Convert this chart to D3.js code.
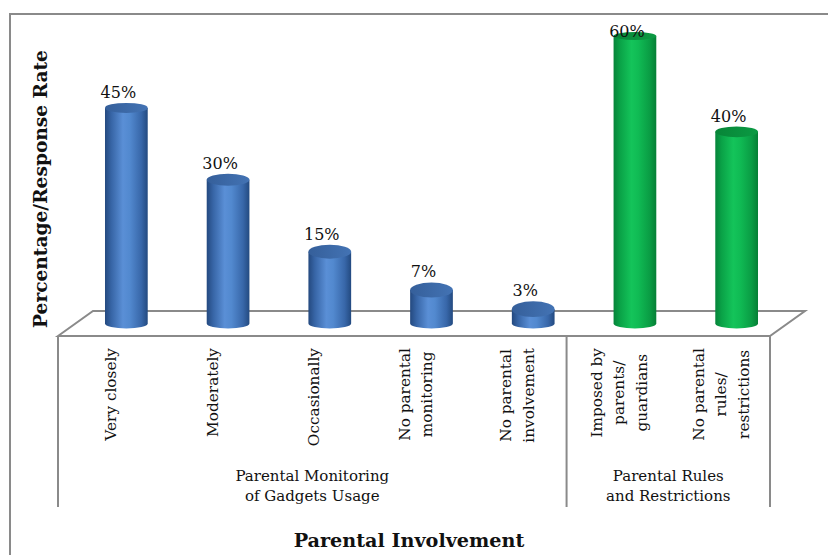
<!DOCTYPE html>
<html>
<head>
<meta charset="utf-8">
<script src="https://cdn.jsdelivr.net/npm/d3@7"></script>
<style>
  html, body { margin: 0; padding: 0; background: #fff; }
  svg { display: block; }
  text { font-family: "DejaVu Serif", "Liberation Serif", serif; fill: #111; }
</style>
</head>
<body>
<svg id="chart" width="828" height="555"></svg>
<script>
// Response rates (%) per category
const categoryLines = [
  ["Very closely"],
  ["Moderately"],
  ["Occasionally"],
  ["No parental", "monitoring"],
  ["No parental", "involvement"],
  ["Imposed by", "parents/", "guardians"],
  ["No parental", "rules/", "restrictions"]
];
const categories = categoryLines.map(l => l.join(" "));
const values = [45, 30, 15, 7, 3, 60, 40];
const valueLabels = ["45%", "30%", "15%", "7%", "3%", "60%", "40%"];

// Category groups along the axis
const groupNames = [["Parental Monitoring", "of Gadgets Usage"], ["Parental Rules", "and Restrictions"]];
const groupSizes = [5, 2];
const groupOf = [0, 0, 0, 0, 0, 1, 1];

const yTitle = "Percentage/Response Rate";
const xTitle = "Parental Involvement";

// Geometry
const svg = d3.select("#chart");
const frontLeft = 58, frontRight = 770, floorFront = 336;
const depthX = 35, depthY = 25;
const floorMid = floorFront - depthY / 2;
const lineColor = "#8a8a8a";

const x = d3.scaleBand().domain(categories).range([frontLeft, frontRight]).paddingInner(0).paddingOuter(0);
const y = d3.scaleLinear().domain([0, 60]).range([floorMid, 36]);

// Cylinder palettes per group
const palettes = [
  { stops: ["#24497f", "#3765a6", "#5a8fd6", "#5289cf", "#3867a9", "#234a80"], top: ["#355f9a", "#4373b4"] },
  { stops: ["#06843a", "#0aa247", "#14c45a", "#10bb54", "#0a9c44", "#067f36"], top: ["#078537", "#0b9a43"] }
];

const defs = svg.append("defs");
palettes.forEach((p, i) => {
  const g = defs.append("linearGradient").attr("id", "body" + i).attr("x1", 0).attr("x2", 1).attr("y1", 0).attr("y2", 0);
  [0, 0.15, 0.42, 0.58, 0.85, 1].forEach((o, k) => g.append("stop").attr("offset", o).attr("stop-color", p.stops[k]));
  const t = defs.append("linearGradient").attr("id", "top" + i).attr("x1", 0).attr("x2", 1).attr("y1", 0).attr("y2", 0);
  t.append("stop").attr("offset", 0).attr("stop-color", p.top[0]);
  t.append("stop").attr("offset", 1).attr("stop-color", p.top[1]);
});

// Outer frame
svg.append("path")
  .attr("d", `M10,${555} L10,14 L${828},14`)
  .attr("fill", "none").attr("stroke", lineColor).attr("stroke-width", 2);

// Floor
svg.append("path")
  .attr("d", `M${frontLeft},${floorFront} L${frontLeft + depthX},${floorFront - depthY} L${frontRight + depthX},${floorFront - depthY} L${frontRight},${floorFront} Z`)
  .attr("fill", "#fff").attr("stroke", lineColor).attr("stroke-width", 2).attr("stroke-linejoin", "miter");

// Group separators under the floor
const axisBottom = 507;
const sepX = [frontLeft];
let acc = 0;
groupSizes.forEach(n => { acc += n; sepX.push(x(categories[acc - 1]) + x.bandwidth()); });
svg.selectAll("line.sep").data(sepX).join("line")
  .attr("class", "sep")
  .attr("x1", d => d).attr("x2", d => d)
  .attr("y1", floorFront).attr("y2", axisBottom)
  .attr("stroke", lineColor).attr("stroke-width", 2);

// Cylinders
const rx = x.bandwidth() * 0.21;
const topRy = v => 4 + 4 * (y(v) - y(60)) / (y(0) - y(60));
const bottomRy = 5;
const barCx = c => x(c) + x.bandwidth() / 2 + depthX / 2;

const bars = svg.append("g").selectAll("g").data(categories).join("g");
bars.append("path")
  .attr("d", (c, i) => {
    const cx = barCx(c), yt = y(values[i]), y0 = y(0);
    return `M${cx - rx},${yt} L${cx - rx},${y0} A${rx},${bottomRy} 0 0 0 ${cx + rx},${y0} L${cx + rx},${yt} Z`;
  })
  .attr("fill", (c, i) => `url(#body${groupOf[i]})`);
bars.append("ellipse")
  .attr("cx", c => barCx(c))
  .attr("cy", (c, i) => y(values[i]))
  .attr("rx", rx)
  .attr("ry", (c, i) => topRy(values[i]))
  .attr("fill", (c, i) => `url(#top${groupOf[i]})`);

// Value labels
svg.append("g").selectAll("text").data(categories).join("text")
  .attr("x", c => barCx(c) - 8)
  .attr("y", (c, i) => Math.max(y(values[i]) - topRy(values[i]) - 5, y(60) + 1))
  .attr("text-anchor", "middle")
  .attr("font-size", 16)
  .text((c, i) => valueLabels[i]);

// Category labels, rotated, lines centred on each other
const lineH = 22.5;
const labelTop = 348;
const catG = svg.append("g");
categories.forEach((c, i) => {
  const lines = categoryLines[i];
  const cx = x(c) + x.bandwidth() / 2 + 2;
  const t = catG.append("text")
    .attr("font-size", 15.3)
    .attr("text-anchor", "middle")
    .attr("dominant-baseline", "central");
  lines.forEach((ln, k) => t.append("tspan").text(ln));
  const maxLen = d3.max(t.selectAll("tspan").nodes(), n => n.getComputedTextLength());
  const cy = labelTop + maxLen / 2;
  t.attr("transform", `translate(${cx},${cy}) rotate(-90)`);
  t.selectAll("tspan")
    .attr("x", 0)
    .attr("y", (d, k) => (k - (lines.length - 1) / 2) * lineH);
});

// Group labels
groupNames.forEach((g, gi) => {
  const cx = (sepX[gi] + sepX[gi + 1]) / 2;
  const t = svg.append("text").attr("text-anchor", "middle").attr("font-size", 15);
  g.forEach((ln, k) => t.append("tspan").attr("x", cx).attr("y", 481 + k * 20).text(ln));
});

// Axis titles
svg.append("text")
  .attr("transform", `translate(47,189) rotate(-90)`)
  .attr("text-anchor", "middle")
  .attr("font-weight", "bold")
  .attr("font-size", 18.6)
  .text(yTitle);

svg.append("text")
  .attr("x", 409).attr("y", 547)
  .attr("text-anchor", "middle")
  .attr("font-weight", "bold")
  .attr("font-size", 19.2)
  .text(xTitle);
</script>
</body>
</html>
